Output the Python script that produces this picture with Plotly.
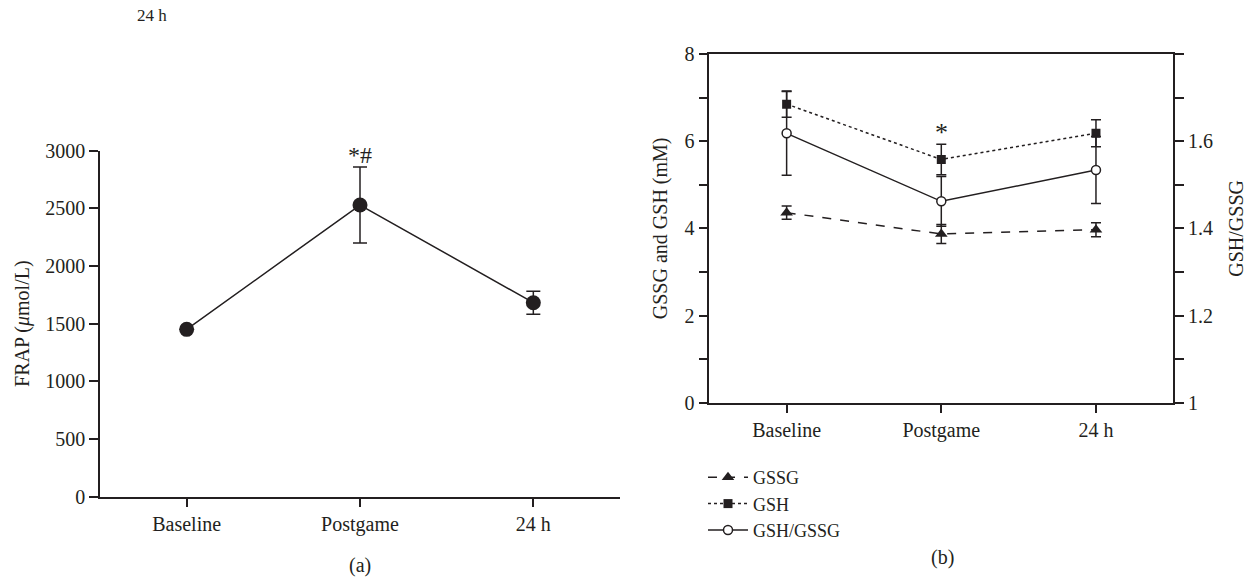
import plotly.graph_objects as go

# ---- data ----
categories = ["Baseline", "Postgame", "24 h"]

frap_mean = [1451, 2529, 1682]
frap_err = [0, 330, 100]

gssg_mean = [4.36, 3.87, 3.97]
gssg_err = [0.15, 0.22, 0.16]

gsh_mean = [6.85, 5.58, 6.18]
gsh_err = [0.30, 0.35, 0.31]

ratio_mean = [1.618, 1.462, 1.534]
ratio_err = [0.096, 0.057, 0.077]

left_yticks = [0, 500, 1000, 1500, 2000, 2500, 3000]
right_yticks = [0, 1, 2, 3, 4, 5, 6, 7, 8]
right_yticklabels = ["0", "", "2", "", "4", "", "6", "", "8"]
ratio_ticks = [1.0, 1.1, 1.2, 1.3, 1.4, 1.5, 1.6, 1.7, 1.8]
ratio_ticklabels = ["1", "", "1.2", "", "1.4", "", "1.6", "", ""]

INK = "#231f20"
FONT = "Liberation Serif"
FS = 20
W, H = 1253, 581

xi = list(range(len(categories)))

fig = go.Figure()

# ---- panel (a) ----
fig.add_trace(go.Scatter(
    x=xi, y=frap_mean, mode="lines+markers", xaxis="x", yaxis="y",
    line=dict(color=INK, width=1.5),
    marker=dict(size=15, color=INK),
    error_y=dict(type="data", array=frap_err, visible=True, color=INK,
                 thickness=1.5, width=7),
    showlegend=False,
))

# ---- panel (b) error bars (drawn first) ----
for vals, errs, ax in [(gssg_mean, gssg_err, "y2"), (gsh_mean, gsh_err, "y2"),
                       (ratio_mean, ratio_err, "y3")]:
    fig.add_trace(go.Scatter(
        x=xi, y=vals, mode="markers", xaxis="x2", yaxis=ax,
        marker=dict(size=1, color="rgba(0,0,0,0)"),
        error_y=dict(type="data", array=errs, visible=True, color=INK,
                     thickness=1.5, width=5),
        showlegend=False, hoverinfo="skip",
    ))

fig.add_trace(go.Scatter(
    x=xi, y=gssg_mean, name="GSSG", mode="lines+markers", xaxis="x2", yaxis="y2",
    line=dict(color=INK, width=1.5, dash="dash"),
    marker=dict(symbol="triangle-up", size=11, color=INK),
))
fig.add_trace(go.Scatter(
    x=xi, y=gsh_mean, name="GSH", mode="lines+markers", xaxis="x2", yaxis="y2",
    line=dict(color=INK, width=1.5, dash="dot"),
    marker=dict(symbol="square", size=9, color=INK),
))
fig.add_trace(go.Scatter(
    x=xi, y=ratio_mean, name="GSH/GSSG", mode="lines+markers", xaxis="x2", yaxis="y3",
    line=dict(color=INK, width=1.5),
    marker=dict(symbol="circle", size=9, color="white", line=dict(color=INK, width=1.5)),
))

axis_common = dict(showline=True, linecolor=INK, linewidth=1.5, ticks="outside",
                   tickcolor=INK, tickwidth=1.5, ticklen=9, showgrid=False,
                   zeroline=False, automargin=False,
                   tickfont=dict(family=FONT, size=FS, color=INK))

fig.update_layout(
    width=W, height=H,
    margin=dict(l=0, r=0, t=0, b=0, pad=0, autoexpand=False),
    paper_bgcolor="white", plot_bgcolor="white",
    font=dict(family=FONT, size=FS, color=INK),
    xaxis=dict(domain=[100 / W, 620 / W], range=[-0.5, 2.5], tickvals=xi,
               ticktext=categories, anchor="y", **axis_common),
    yaxis=dict(domain=[1 - 496.7 / H, 1 - 150.7 / H], range=[0, 3000],
               tickvals=left_yticks, anchor="x",
               title=dict(text="FRAP (<i>μ</i>mol/L)", font=dict(family=FONT, size=FS, color=INK),
                          standoff=10),
               **axis_common),
    xaxis2=dict(domain=[709.3 / W, 1173.3 / W], range=[-0.5, 2.5], tickvals=xi,
                ticktext=categories, anchor="y2", mirror=True, **axis_common),
    yaxis2=dict(domain=[1 - 402.7 / H, 1 - 54 / H], range=[0, 8],
                tickvals=right_yticks, ticktext=right_yticklabels, anchor="x2",
                title=dict(text="GSSG and GSH (mM)", font=dict(family=FONT, size=FS, color=INK),
                           standoff=12),
                **axis_common),
    yaxis3=dict(domain=[1 - 402.7 / H, 1 - 54 / H], range=[1, 1.8], overlaying="y2",
                side="right", anchor="x2",
                tickvals=ratio_ticks, ticktext=ratio_ticklabels,
                title=dict(text="GSH/GSSG", font=dict(family=FONT, size=FS, color=INK),
                           standoff=17),
                **axis_common),
    legend=dict(x=703 / W, y=1 - 459 / H, xanchor="left", yanchor="top",
                font=dict(family=FONT, size=18, color=INK), bgcolor="rgba(0,0,0,0)",
                tracegroupgap=0, itemwidth=40),
    annotations=[
        dict(text="24 h", x=152 / W, y=1 - 15 / H, xref="paper", yref="paper",
             xanchor="center", yanchor="middle",
             showarrow=False, font=dict(family=FONT, size=17, color=INK)),
        dict(text="(a)", x=360 / W, y=1 - 565 / H, xref="paper", yref="paper",
             xanchor="center", yanchor="middle",
             showarrow=False, font=dict(family=FONT, size=FS, color=INK)),
        dict(text="(b)", x=942 / W, y=1 - 557 / H, xref="paper", yref="paper",
             xanchor="center", yanchor="middle",
             showarrow=False, font=dict(family=FONT, size=FS, color=INK)),
        dict(text="*#", x=1, y=2960, xref="x", yref="y", showarrow=False,
             font=dict(family=FONT, size=24, color=INK)),
        dict(text="*", x=1, y=6.2, xref="x2", yref="y2", showarrow=False,
             font=dict(family=FONT, size=26, color=INK)),
    ],
)

fig.write_html("out.html", config={"displayModeBar": False},
               post_script="document.body.style.margin='0';")
